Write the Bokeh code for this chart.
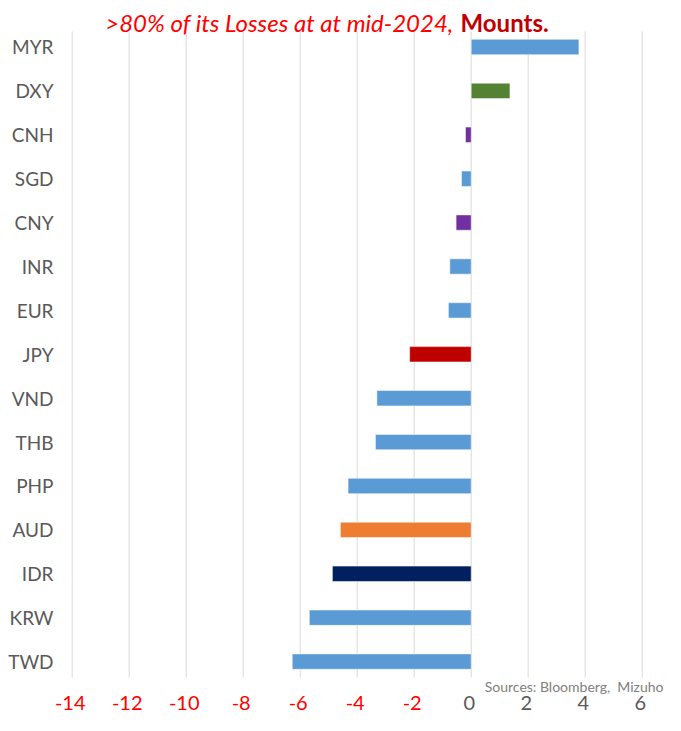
from bokeh.plotting import figure
from bokeh.models import Range1d, ColumnDataSource, Label
from bokeh.core.properties import value
from bokeh.embed import file_html
from bokeh.resources import INLINE

# ---- data ----
categories = ["MYR", "DXY", "CNH", "SGD", "CNY", "INR", "EUR", "JPY",
              "VND", "THB", "PHP", "AUD", "IDR", "KRW", "TWD"]
values = [3.78, 1.36, -0.20, -0.34, -0.53, -0.75, -0.80, -2.16,
          -3.31, -3.36, -4.32, -4.59, -4.87, -5.68, -6.28]
bar_colors = ["#5B9BD5", "#548235", "#7030A0", "#5B9BD5", "#7030A0", "#5B9BD5",
              "#5B9BD5", "#C00000", "#5B9BD5", "#5B9BD5", "#5B9BD5", "#ED7D31",
              "#002060", "#5B9BD5", "#5B9BD5"]
x_ticks = [-14, -12, -10, -8, -6, -4, -2, 0, 2, 4, 6]
tick_labels = [str(t) for t in x_ticks]
title_main = ">80% of its Losses at at mid-2024,"
title_bold = "Mounts."
source_text = "Sources: Bloomberg,\u00a0 Mizuho"

FONT = "Lato"
GRAY = "#595959"
RED = "#FF0000"

p = figure(width=665, height=715,
           x_range=Range1d(-16.516, 6.818), y_range=Range1d(15.228, -1.0592),
           output_backend="svg", toolbar_location=None, min_border=0,
           x_axis_type=None, y_axis_type=None)
p.outline_line_color = None
p.background_fill_color = "white"
p.border_fill_color = "white"

# gridlines
grid_src = ColumnDataSource(dict(x=x_ticks))
p.segment(x0="x", x1="x", y0=-0.353, y1=14.362, source=grid_src,
          line_color="#D9D9D9", line_width=1)

# bars
bar_src = ColumnDataSource(dict(y=list(range(len(categories))), right=values,
                                color=bar_colors, cat=categories))
p.hbar(y="y", left=0, right="right", height=0.35, source=bar_src,
       fill_color="color", line_color="white", line_alpha=0.5, line_width=1)

# category labels
p.text(x=-14.656, y="y", text="cat", source=bar_src,
       text_align="right", text_baseline="middle",
       text_font=value(FONT), text_font_size="19px", text_color=GRAY)

# x tick labels (negative red, others gray)
tick_src = ColumnDataSource(dict(x=x_ticks, text=tick_labels,
                                 color=[RED if t < 0 else GRAY for t in x_ticks]))
p.text(x="x", y=14.954, text="text", source=tick_src, x_offset=-2,
       text_align="center", text_baseline="middle",
       text_font=value(FONT), text_font_size="20px", text_color="color")

# title
p.add_layout(Label(x=-0.621, y=-0.558, text=title_main, text_align="right",
                   text_baseline="middle", text_font=FONT,
                   text_font_style="italic", text_font_size="24px",
                   text_color=RED))
p.add_layout(Label(x=-0.375, y=-0.558, text=title_bold, text_align="left",
                   text_baseline="middle", text_font=FONT,
                   text_font_style="bold", text_font_size="24px",
                   text_color="#C00000"))

# source note
p.add_layout(Label(x=6.747, y=14.567, text=source_text, text_align="right",
                   text_baseline="middle", text_font=FONT,
                   text_font_size="14px", text_color="#808080"))

open("out.html", "w").write(file_html(p, INLINE))
